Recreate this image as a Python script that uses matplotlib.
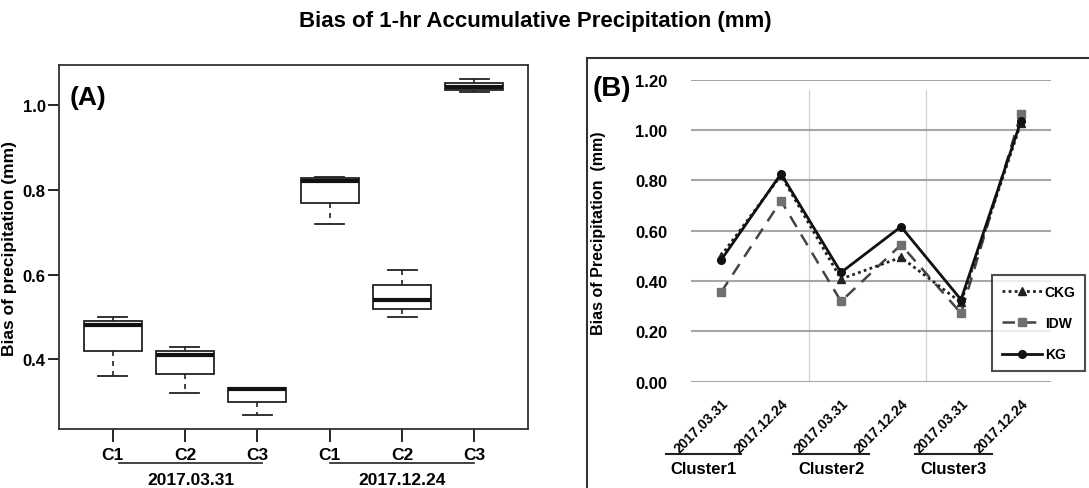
import matplotlib
matplotlib.use("Agg")
import matplotlib.pyplot as plt
import matplotlib.transforms as mtransforms
from matplotlib.lines import Line2D

# ---- data, panel A (box plots) ----
box_labels = ["C1", "C2", "C3", "C1", "C2", "C3"]
box_whislo = [0.36, 0.32, 0.27, 0.72, 0.499, 1.030]
box_q1 = [0.42, 0.365, 0.30, 0.769, 0.519, 1.034]
box_med = [0.48, 0.41, 0.330, 0.82, 0.54, 1.042]
box_q3 = [0.49, 0.42, 0.332, 0.827, 0.575, 1.051]
box_whishi = [0.50, 0.43, 0.332, 0.83, 0.611, 1.060]
date_groups = ["2017.03.31", "2017.12.24"]

# ---- data, panel B (lines) ----
b_dates = ["2017.03.31", "2017.12.24"] * 3
clusters = ["Cluster1", "Cluster2", "Cluster3"]
ckg = [0.50, 0.82, 0.408, 0.494, 0.315, 1.028]
idw = [0.355, 0.719, 0.319, 0.544, 0.272, 1.064]
kg = [0.483, 0.826, 0.434, 0.616, 0.326, 1.037]

W, H = 1089, 489
fig = plt.figure(figsize=(W / 100, H / 100), dpi=100)


def px_box(x0, y0, x1, y1):
    return [x0 / W, 1 - y1 / H, (x1 - x0) / W, (y1 - y0) / H]


fa = "Liberation Sans"

fig.text(535 / W, 1 - 21 / H, "Bias of 1-hr Accumulative Precipitation (mm)",
         ha="center", va="center", fontsize=16, fontweight="bold", family=fa)

# ---------------- panel A ----------------
axA = fig.add_axes(px_box(59, 66, 528, 430))
stats = []
for i in range(len(box_labels)):
    stats.append(dict(whislo=box_whislo[i], q1=box_q1[i], med=box_med[i],
                      q3=box_q3[i], whishi=box_whishi[i], fliers=[]))
pos = list(range(1, len(box_labels) + 1))
axA.bxp(stats, positions=pos, widths=0.8, showfliers=False, patch_artist=True,
        boxprops=dict(facecolor="white", edgecolor="#222222", linewidth=1.3),
        medianprops=dict(color="#111111", linewidth=3),
        whiskerprops=dict(color="#222222", linewidth=1.2, linestyle=(0, (3, 3))),
        capprops=dict(color="#222222", linewidth=1.3), capwidths=0.4)
axA.set_xlim(0.26, 6.74)
axA.set_ylim(0.236, 1.094)
axA.set_yticks([0.4, 0.6, 0.8, 1.0])
axA.set_yticklabels(["0.4", "0.6", "0.8", "1.0"])
axA.set_xticks(pos)
axA.set_xticklabels(box_labels)
for s in axA.spines.values():
    s.set_linewidth(1.3)
    s.set_color("#333333")
axA.tick_params(axis="y", length=8, width=1.2, pad=1.5, labelsize=12)
axA.tick_params(axis="x", length=9, width=1.2, pad=4, labelsize=12.5)
for lab in axA.get_xticklabels() + axA.get_yticklabels():
    lab.set_fontweight("bold")
    lab.set_family(fa)
axA.set_ylabel("Bias of precipitation (mm)", fontsize=12.5, fontweight="bold",
               family=fa, labelpad=4)
axA.yaxis.set_label_coords(17 / W, 0.5, transform=mtransforms.blended_transform_factory(
    fig.transFigure, axA.transAxes))
axA.text(88 / W, 1 - 98 / H, "(A)", transform=fig.transFigure, ha="center",
         va="center", fontsize=19, fontweight="bold", family=fa)

trA = mtransforms.blended_transform_factory(axA.transData, fig.transFigure)
group_spans = [(1.09, 3.07), (4.0, 6.0)]
for (x0, x1), name in zip(group_spans, date_groups):
    axA.add_line(Line2D([x0, x1], [1 - 464 / H] * 2, transform=trA,
                        color="#222222", linewidth=1.2, clip_on=False))
    axA.text((x0 + x1) / 2, 1 - 481 / H, name, transform=trA, ha="center",
             va="center", fontsize=12.5, fontweight="bold", family=fa)

# ---------------- panel B ----------------
fig.add_artist(Line2D([587 / W, 587 / W], [0, 1 - 59 / H], transform=fig.transFigure,
                      color="#333333", linewidth=1.5))
fig.add_artist(Line2D([587 / W, 1.0], [1 - 59 / H] * 2, transform=fig.transFigure,
                      color="#333333", linewidth=1.5))

axB = fig.add_axes(px_box(691, 80.7, 1051, 382.7))
x = list(range(len(b_dates)))
axB.set_xlim(-0.5, 5.5)
axB.set_ylim(0, 1.2)
for s in axB.spines.values():
    s.set_visible(False)
yt = [0, 0.2, 0.4, 0.6, 0.8, 1.0, 1.2]
axB.set_yticks(yt)
axB.set_yticklabels([f"{v:.2f}" for v in yt])
axB.grid(axis="y", color="#a6a6a6", linewidth=1.5)
axB.set_axisbelow(True)
for sep in [1.46, 3.42]:
    axB.plot([sep, sep], [0, 1.16], color="#d0d0d0", linewidth=0.9, zorder=0)

axB.plot(x, idw, color="#444444", linestyle=(0, (5, 3.5)), linewidth=1.8,
         marker="s", markersize=5.5, markerfacecolor="#707070",
         markeredgecolor="#707070", label="IDW", zorder=3)
axB.plot(x, ckg, color="#222222", linestyle=(0, (1, 1.2)), linewidth=2.0,
         marker="^", markersize=5.5, markerfacecolor="#222222",
         markeredgecolor="#222222", label="CKG", zorder=4)
axB.plot(x, kg, color="#111111", linestyle="-", linewidth=2.0,
         marker="o", markersize=5.5, label="KG", zorder=5)

axB.set_xticks(x)
axB.set_xticklabels(b_dates, rotation=45, ha="right", va="top",
                    rotation_mode="anchor")
axB.tick_params(axis="x", length=0, pad=10)
axB.tick_params(axis="y", length=0, pad=17)
for lab in axB.get_xticklabels():
    lab.set_fontweight("bold")
    lab.set_family(fa)
    lab.set_fontsize(10)
for lab in axB.get_yticklabels():
    lab.set_fontweight("bold")
    lab.set_family(fa)
    lab.set_fontsize(12)
axB.set_ylabel("Bias of Precipitation  (mm)", fontsize=11.5, fontweight="bold",
               family=fa)
axB.yaxis.set_label_coords(606 / W, 1 - 233 / H, transform=fig.transFigure)
axB.text(612 / W, 1 - 89 / H, "(B)", transform=fig.transFigure, ha="center",
         va="center", fontsize=20, fontweight="bold", family=fa)

trB = mtransforms.blended_transform_factory(axB.transData, fig.transFigure)
cluster_spans = [(-0.92, 0.34), (1.2, 2.47), (3.24, 4.51)]
for (x0, x1), name in zip(cluster_spans, clusters):
    axB.add_line(Line2D([x0, x1], [1 - 455 / H] * 2, transform=trB,
                        color="#222222", linewidth=1.5, clip_on=False))
    axB.text((x0 + x1) / 2, 1 - 470 / H, name, transform=trB, ha="center",
             va="center", fontsize=12, fontweight="bold", family=fa)

handles, labels = axB.get_legend_handles_labels()
order = [labels.index("CKG"), labels.index("IDW"), labels.index("KG")]
leg = axB.legend([handles[i] for i in order], [labels[i] for i in order],
                 loc="upper left", bbox_to_anchor=(992 / W, 1 - 276 / H),
                 bbox_transform=fig.transFigure, frameon=True, fancybox=False,
                 handlelength=2.9, handletextpad=0.2, labelspacing=1.25,
                 borderpad=0.7, borderaxespad=0,
                 prop=dict(family=fa, weight="bold", size=10))
leg.get_frame().set_edgecolor("#222222")
leg.get_frame().set_linewidth(1.5)
leg.set_zorder(10)

fig.savefig("out.png", dpi=100)
